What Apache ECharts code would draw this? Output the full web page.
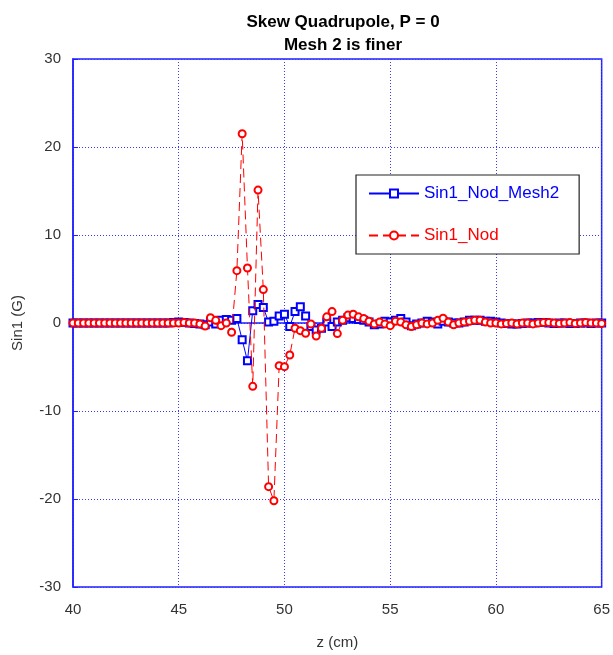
<!DOCTYPE html>
<html>
<head>
<meta charset="utf-8">
<script src="https://cdn.jsdelivr.net/npm/echarts@6/dist/echarts.min.js"></script>
<style>
html,body{margin:0;padding:0;background:#fff;}
#chart{width:613px;height:655px;}
</style>
</head>
<body>
<div id="chart"></div>
<script>
// z positions (cm)
var zValues = [
 40.00,40.25,40.50,40.75,41.00,41.25,41.50,41.75,42.00,42.25,42.50,42.75,
 43.00,43.25,43.50,43.75,44.00,44.25,44.50,44.75,45.00,45.25,45.50,45.75,
 46.00,46.25,46.50,46.75,47.00,47.25,47.50,47.75,48.00,48.25,48.50,48.75,
 49.00,49.25,49.50,49.75,50.00,50.25,50.50,50.75,51.00,51.25,51.50,51.75,
 52.00,52.25,52.50,52.75,53.00,53.25,53.50,53.75,54.00,54.25,54.50,54.75,
 55.00,55.25,55.50,55.75,56.00,56.25,56.50,56.75,57.00,57.25,57.50,57.75,
 58.00,58.25,58.50,58.75,59.00,59.25,59.50,59.75,60.00,60.25,60.50,60.75,
 61.00,61.25,61.50,61.75,62.00,62.25,62.50,62.75,63.00,63.25,63.50,63.75,
 64.00,64.25,64.50,64.75,65.00
];
// Sin1_Nod_Mesh2 (G)
var mesh2Values = [
 0,0,0,0,0,0,0,0,0,0,0,0,
 0,0,0,0,0,0,0,0.05,0.1,0.05,0,-0.05,
 -0.1,-0.2,0.1,-0.1,0.3,0.4,0.3,0.5,-1.9,-4.3,1.4,2.1,
 1.75,0.1,0.2,0.8,1.0,-0.4,1.3,1.85,0.8,-0.4,-0.8,-0.6,
 0.1,-0.4,0.1,0.3,0.6,0.5,0.4,0.3,0.1,-0.2,-0.1,0.2,
 0.1,0.3,0.5,0.1,-0.3,-0.1,0.0,0.2,0.1,-0.1,0.2,0.1,
 0.0,0.0,0.1,0.3,0.3,0.3,0.2,0.2,0.1,0.0,-0.05,-0.1,
 -0.1,-0.05,0.0,0.0,0.05,0.05,0.0,-0.05,0.0,0.0,-0.05,-0.05,
 0.0,0.0,-0.05,0.0,0.0
];
// Sin1_Nod (G)
var nodValues = [
 0,0,0,0,0,0,0,0,0,0,0,0,
 0,0,0,0,0,0,0,0,0,0.05,0,0,
 -0.1,-0.35,0.6,0.3,-0.3,0.0,-1.05,5.95,21.5,6.25,-7.2,15.1,
 3.8,-18.6,-20.2,-4.85,-4.96,-3.64,-0.6,-0.87,-1.17,-0.1,-1.48,-0.6,
 0.7,1.3,-1.2,0.3,0.9,1.0,0.7,0.5,0.2,-0.1,0.1,-0.1,
 -0.3,0.2,0.1,-0.2,-0.4,-0.2,0.0,-0.1,0.0,0.3,0.55,0.1,
 -0.2,0.0,0.1,0.2,0.3,0.3,0.1,0.0,0.0,-0.1,-0.05,0.0,
 -0.1,0.0,0.0,-0.1,0.0,0.05,0.05,0.0,-0.05,0.0,0.05,-0.05,
 0.0,0.05,0.0,0.0,-0.05
];
var xTicks = [40,45,50,55,60,65];
var yTicks = [-30,-20,-10,0,10,20,30];
var seriesNames = ['Sin1_Nod_Mesh2','Sin1_Nod'];
var titleLines = ['Skew Quadrupole, P = 0','Mesh 2 is finer'];

function pairs(xs, ys){ return xs.map(function(x,i){return [x, ys[i]];}); }

var BLUE = '#0000ff', RED = '#ff0000', AXISBLUE = '#2020ff', GRIDBLUE = '#3a3aff';
var FONT = 'Liberation Sans, Arial, sans-serif';

var chart = echarts.init(document.getElementById('chart'), null, {renderer:'canvas'});
chart.setOption({
  animation:false,
  backgroundColor:'#ffffff',
  title:{
    text: titleLines.join('\n'),
    left: 338, top: 6, textAlign:'center',
    textStyle:{fontFamily:FONT, fontSize:17, fontWeight:'bold', color:'#000', lineHeight:23}
  },
  grid:{left:73, top:59, width:530, height:528, show:true, borderColor:AXISBLUE, borderWidth:1.5, backgroundColor:'transparent'},
  legend:{
    left:356, top:175, orient:'vertical',
    backgroundColor:'#fff', borderColor:'#222', borderWidth:1.2,
    padding:[10,20,10,12], itemGap:25, itemWidth:50, itemHeight:10,
    data:[
      {name:seriesNames[0], textStyle:{color:BLUE}},
      {name:seriesNames[1], textStyle:{color:RED}}
    ],
    textStyle:{fontFamily:FONT, fontSize:17}
  },
  xAxis:{
    type:'value', min:xTicks[0], max:xTicks[xTicks.length-1], interval:5,
    name:'z (cm)', nameLocation:'middle', nameGap:48,
    nameTextStyle:{fontFamily:FONT, fontSize:15, color:'#333'},
    axisLine:{show:true, lineStyle:{color:AXISBLUE, width:1.5}},
    axisTick:{show:true, inside:true, length:5, lineStyle:{color:AXISBLUE}},
    axisLabel:{fontFamily:FONT, fontSize:15, color:'#333', margin:15},
    splitLine:{show:true, lineStyle:{color:GRIDBLUE, type:[1,2], width:1}}
  },
  yAxis:{
    type:'value', min:yTicks[0], max:yTicks[yTicks.length-1], interval:10,
    name:'Sin1 (G)', nameLocation:'middle', nameGap:48, nameRotate:90,
    nameTextStyle:{fontFamily:FONT, fontSize:15, color:'#333'},
    axisLine:{show:true, lineStyle:{color:AXISBLUE, width:1.5}},
    axisTick:{show:true, inside:true, length:5, lineStyle:{color:AXISBLUE}},
    axisLabel:{fontFamily:FONT, fontSize:15, color:'#333', margin:12},
    splitLine:{show:true, lineStyle:{color:GRIDBLUE, type:[1,2], width:1}}
  },
  series:[
    {
      name:seriesNames[0], type:'line', data:pairs(zValues, mesh2Values),
      symbol:'emptyRect', symbolSize:7, showAllSymbol:true,
      itemStyle:{color:BLUE, borderWidth:1},
      lineStyle:{color:BLUE, width:1}, z:2
    },
    {
      name:seriesNames[1], type:'line', data:pairs(zValues, nodValues),
      symbol:'emptyCircle', symbolSize:7, showAllSymbol:true,
      itemStyle:{color:RED, borderWidth:1},
      lineStyle:{color:RED, width:1, type:[9,5]}, z:3
    }
  ]
});
</script>
</body>
</html>
